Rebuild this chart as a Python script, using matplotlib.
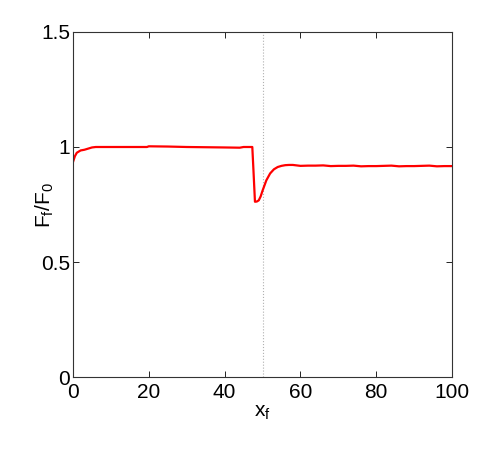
import numpy as np
import matplotlib
matplotlib.use("Agg")
import matplotlib.pyplot as plt

plt.rcParams["font.family"] = ["Liberation Sans", "DejaVu Sans"]

# Force ratio along the fault
x_f = [0, 0.5, 1, 2, 3, 4, 5, 6, 10, 15, 19.5, 20, 25, 30, 35, 40, 44, 45, 47.3, 47.6,
       48, 48.5, 49, 49.5, 50, 51, 52, 53, 54, 55, 56, 57, 58, 60, 62, 64, 66, 68,
       70, 72, 74, 76, 78, 80, 82, 84, 86, 88, 90, 92, 94, 96, 98, 100]
ratio = [0.935, 0.96, 0.975, 0.985, 0.988, 0.993, 0.998, 1.0, 1.0, 1.0, 1.0, 1.003, 1.002, 1.0,
         0.999, 0.998, 0.997, 1.0, 1.0, 0.9, 0.762, 0.763, 0.768, 0.785, 0.81, 0.855, 0.885,
         0.903, 0.913, 0.918, 0.921, 0.922, 0.922, 0.918, 0.919, 0.919, 0.920, 0.917, 0.918,
         0.918, 0.919, 0.916, 0.917, 0.917, 0.918, 0.919, 0.916, 0.917, 0.917, 0.918, 0.919,
         0.916, 0.917, 0.917]
x_fault = 50

fig = plt.figure(figsize=(4.91, 4.5), dpi=100)
ax = fig.add_axes([0.1487, 0.1622, 0.772, 0.7667])

ax.axvline(x_fault, color="#b0b0b0", linestyle=":", linewidth=0.8)
ax.plot(x_f, ratio, color="red", linewidth=1.6)

ax.set_xlim(0, 100)
ax.set_ylim(0, 1.5)
ax.set_xticks([0, 20, 40, 60, 80, 100])
ax.set_yticks([0, 0.5, 1, 1.5])
ax.set_yticklabels(["0", "0.5", "1", "1.5"])
ax.tick_params(direction="in", top=True, right=True, labelsize=15, length=4,
               width=0.6, pad=2, colors="#000000")
ax.tick_params(axis="x", pad=4)
for s in ax.spines.values():
    s.set_linewidth(0.8)
    s.set_color("#333333")

ax.set_xlabel("x$_\\mathregular{f}$", fontsize=15, labelpad=1)
ax.set_ylabel("F$_\\mathregular{f}$/F$_\\mathregular{0}$", fontsize=15)
ax.yaxis.set_label_coords(-0.045, 0.5)

fig.savefig("out.png", dpi=100)
